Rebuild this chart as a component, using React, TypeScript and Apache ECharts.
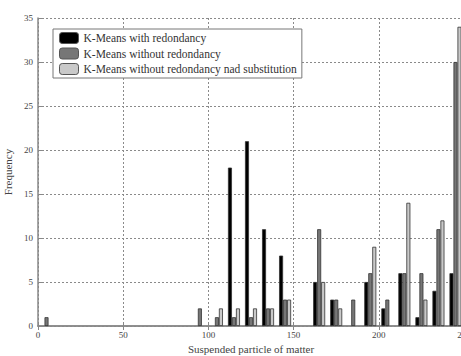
import React, { useEffect, useRef } from "react";
import * as echarts from "echarts";

const bins = [5, 15, 25, 35, 45, 55, 65, 75, 85, 95, 105, 115, 125, 135, 145, 155, 165, 175, 185, 195, 205, 215, 225, 235, 245];
const withRedondancy = [0, 0, 0, 0, 0, 0, 0, 0, 0, 0, 0, 18, 21, 11, 8, 0, 5, 3, 0, 5, 2, 6, 1, 4, 6];
const withoutRedondancy = [1, 0, 0, 0, 0, 0, 0, 0, 0, 2, 1, 1, 1, 2, 3, 0, 11, 3, 3, 6, 3, 6, 6, 11, 30];
const withoutSubstitution = [0, 0, 0, 0, 0, 0, 0, 0, 0, 0, 2, 2, 2, 2, 3, 0, 5, 2, 0, 9, 0, 14, 3, 12, 34];
const seriesNames = [
  "K-Means with redondancy",
  "K-Means without redondancy",
  "K-Means without redondancy nad substitution",
];
const seriesColors = ["#000000", "#767676", "#c9c9c9"];
const xTicks = [0, 50, 100, 150, 200, 250];
const yTicks = [0, 5, 10, 15, 20, 25, 30, 35];

export default function App() {
  const ref = useRef<HTMLDivElement>(null);
  useEffect(() => {
    if (!ref.current) return;
    const chart = echarts.init(ref.current, undefined, { renderer: "svg" });
    const font = "Liberation Serif";
    const allSeries = [withRedondancy, withoutRedondancy, withoutSubstitution];
    const gridLine = { show: true, lineStyle: { color: "#8a8a8a", type: [2, 2] as any, width: 1 } };
    chart.setOption({
      animation: false,
      backgroundColor: "#ffffff",
      textStyle: { fontFamily: font },
      legend: {
        orient: "vertical",
        left: 53,
        top: 29,
        itemWidth: 19,
        itemHeight: 11,
        itemGap: 3.5,
        padding: [3, 5, 3, 6],
        borderColor: "#777",
        borderWidth: 1,
        backgroundColor: "#fff",
        textStyle: { fontFamily: font, fontSize: 11.5, color: "#333", padding: [0, 0, 0, 0] },
        data: seriesNames.map((n) => ({ name: n, itemStyle: { borderColor: "#555", borderWidth: 1 } })),
      },
      grid: { left: 38, top: 18, width: 426, height: 308, containLabel: false, outerBoundsMode: "none" },
      xAxis: [
        {
          type: "value",
          min: 0,
          max: 250,
          interval: 50,
          name: "Suspended particle of matter",
          nameLocation: "middle",
          nameGap: 17,
          nameTextStyle: { fontFamily: font, fontSize: 11, color: "#444" },
          axisLine: { show: true, onZero: false, lineStyle: { color: "#888", width: 1.5 } },
          axisTick: { show: true, inside: true, length: 4, lineStyle: { color: "#888" } },
          axisLabel: { fontFamily: font, fontSize: 9, color: "#444", margin: 4, formatter: (v: number) => (xTicks.includes(v) ? String(v) : "") },
          splitLine: gridLine,
        },
        {
          type: "value",
          min: 0,
          max: 250,
          interval: 50,
          position: "top",
          axisLine: { show: true, lineStyle: { color: "#888", width: 1.5 } },
          axisTick: { show: true, inside: true, length: 4, lineStyle: { color: "#888" } },
          axisLabel: { show: false },
          splitLine: { show: false },
        },
      ],
      yAxis: {
        type: "value",
        min: 0,
        max: 35,
        interval: 5,
        name: "Frequency",
        nameLocation: "middle",
        nameGap: 19,
        nameRotate: 90,
        nameTextStyle: { fontFamily: font, fontSize: 11, color: "#444" },
        axisLine: { show: true, lineStyle: { color: "#888", width: 1.5 } },
        axisTick: { show: true, inside: true, length: 4, lineStyle: { color: "#888" } },
        axisLabel: { fontFamily: font, fontSize: 9, color: "#444", margin: 5, formatter: (v: number) => (yTicks.includes(v) ? String(v) : "") },
        splitLine: gridLine,
      },
      series: allSeries.map((vals, i) => ({
        type: "bar",
        name: seriesNames[i],
        xAxisIndex: 0,
        barWidth: 4,
        barGap: "0%",
        itemStyle: { color: seriesColors[i], borderColor: "#333", borderWidth: 0.8 },
        data: bins.map((b, j) => [b, vals[j] === 0 ? null : vals[j]]),
      })),
    });
    return () => chart.dispose();
  }, []);
  return <div ref={ref} style={{ width: 461, height: 356, position: "absolute", left: 0, top: 0 }} />;
}
